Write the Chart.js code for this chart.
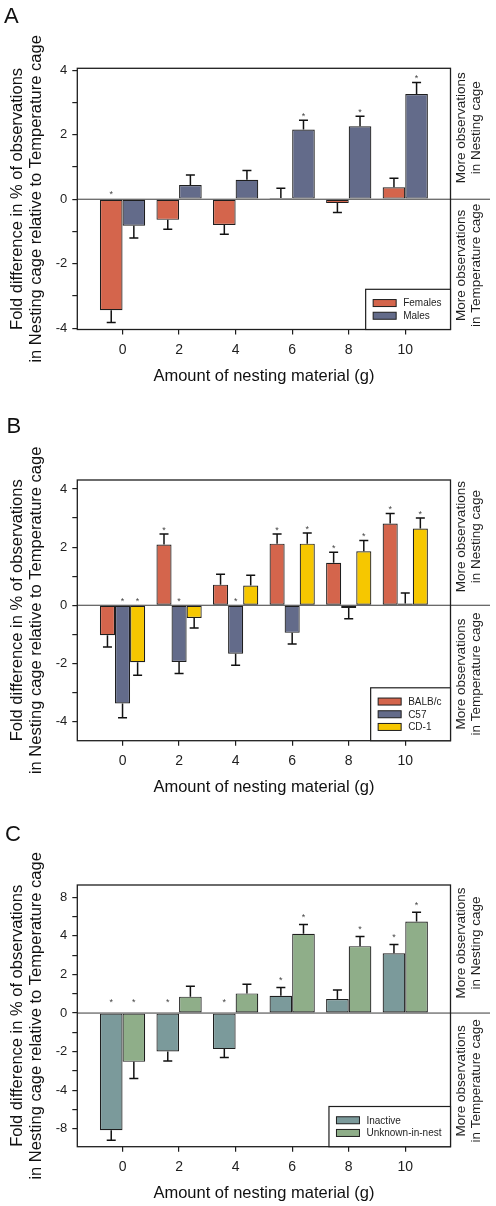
<!DOCTYPE html>
<html>
<head>
<meta charset="utf-8">
<script src="https://cdn.jsdelivr.net/npm/chart.js@4.4.1/dist/chart.umd.min.js"></script>
<style>
  body { margin: 0; background: #fff; }
  #wrap { position: relative; width: 496px; height: 1206px; }
  #wrap canvas { position: absolute; left: 0; }
</style>
</head>
<body>
<div id="wrap">
  <canvas id="chartA" width="496" height="400" style="top:0"></canvas>
  <canvas id="chartB" width="496" height="400" style="top:400px"></canvas>
  <canvas id="chartC" width="496" height="406" style="top:800px"></canvas>
</div>
<script>
const FONT = '"Liberation Sans", Arial, Helvetica, sans-serif';
const INK  = '#1e1e1e';

// x categories (g of nesting material)
const amounts = [0, 2, 4, 6, 8, 10];

// ---- Panel A: females vs males ----
const femalesA    = [-3.44, -0.64, -0.80, 0.04, -0.12, 0.37];
const femalesErrA = [0.38, 0.29, 0.29, 0.30, 0.29, 0.28];
const femalesSigA = [true, false, false, false, false, false];
const malesA      = [-0.82, 0.44, 0.60, 2.16, 2.26, 3.26];
const malesErrA   = [0.38, 0.31, 0.29, 0.29, 0.31, 0.36];
const malesSigA   = [false, false, false, true, true, true];

// ---- Panel B: strains ----
const balbB    = [-1.03, 2.09, 0.71, 2.12, 1.46, 2.81];
const balbErrB = [0.41, 0.36, 0.36, 0.33, 0.36, 0.35];
const balbSigB = [false, true, false, true, true, true];
const c57B     = [-3.38, -1.95, -1.67, -0.95, -0.09, 0.06];
const c57ErrB  = [0.49, 0.40, 0.39, 0.38, 0.37, 0.36];
const c57SigB  = [true, true, true, false, false, false];
const cd1B     = [-1.96, -0.44, 0.68, 2.12, 1.86, 2.64];
const cd1ErrB  = [0.45, 0.34, 0.35, 0.37, 0.37, 0.36];
const cd1SigB  = [true, false, false, true, true, true];

// ---- Panel C: behaviour ----
const inactiveC    = [-6.08, -1.99, -1.87, 0.90, 0.73, 3.10];
const inactiveErrC = [0.52, 0.49, 0.43, 0.43, 0.47, 0.45];
const inactiveSigC = [true, true, true, true, false, true];
const unknownC     = [-2.53, 0.85, 1.02, 4.11, 3.47, 4.75];
const unknownErrC  = [0.87, 0.54, 0.47, 0.48, 0.50, 0.48];
const unknownSigC  = [true, false, false, true, true, true];

// y tick positions and the labels printed at them
const yTicksAB  = [-4, -3, -2, -1, 0, 1, 2, 3, 4];
const yLabelsAB = ['-4', '', '-2', '', '0', '', '2', '', '4'];
const yTicksC   = [-6, -5, -4, -3, -2, -1, 0, 1, 2, 3, 4, 5, 6];
const yLabelsC  = ['-8', '', '-4', '', '-2', '', '0', '', '2', '', '4', '', '8'];

const xTitle    = 'Amount of nesting material (g)';
const yTitle    = ['Fold difference in % of observations', 'in Nesting cage relative to Temperature cage'];
const upperNote = ['More observations', 'in Nesting cage'];
const lowerNote = ['More observations', 'in Temperature cage'];

const RED = '#d4654c', SLATE = '#636b8a', YELLOW = '#f6c700', TEAL = '#7b9a9b', GREEN = '#8fae89';

const rotText = (ctx, lines, x, cy, gap) => {
  lines.forEach((t, i) => {
    ctx.save();
    ctx.translate(x + i * gap, cy);
    ctx.rotate(-Math.PI / 2);
    ctx.fillText(t, 0, 0);
    ctx.restore();
  });
};

const panelDecor = {
  id: 'panelDecor',
  beforeDatasetsDraw(chart) {
    const { ctx, chartArea: a, scales: { y } } = chart;
    const y0 = y.getPixelForValue(0);
    ctx.save();
    ctx.strokeStyle = '#3a3a3a';
    ctx.lineWidth = 1;
    ctx.beginPath(); ctx.moveTo(a.left, y0); ctx.lineTo(490, y0); ctx.stroke();
    ctx.restore();
  },
  afterDatasetsDraw(chart, args, opts) {
    const { ctx, scales: { y } } = chart;
    const y0 = y.getPixelForValue(0);
    ctx.save();
    chart.data.datasets.forEach((ds, i) => {
      const meta = chart.getDatasetMeta(i);
      meta.data.forEach((bar, j) => {
        const v = ds.data[j].y;
        const dir = v >= 0 ? 1 : -1;
        const yEnd = y.getPixelForValue(v + dir * ds.err[j]);
        ctx.strokeStyle = '#111';
        ctx.lineWidth = 1.5;
        ctx.beginPath();
        ctx.moveTo(bar.x, bar.y); ctx.lineTo(bar.x, yEnd);
        ctx.moveTo(bar.x - 4.5, yEnd); ctx.lineTo(bar.x + 4.5, yEnd);
        ctx.stroke();
        if (ds.sig[j]) {
          const sy = v >= 0 ? yEnd - opts.starGap : y0 - opts.starGapNeg;
          ctx.fillStyle = '#444';
          ctx.font = `9px ${FONT}`;
          ctx.textAlign = 'center';
          ctx.textBaseline = 'middle';
          ctx.fillText('*', bar.x, sy + 2);
        }
      });
    });
    ctx.restore();
  },
  afterDraw(chart, args, opts) {
    const { ctx, chartArea: a, scales: { y } } = chart;
    const y0 = y.getPixelForValue(0);
    ctx.save();
    // frame
    ctx.strokeStyle = INK;
    ctx.lineWidth = 1.3;
    ctx.strokeRect(a.left, a.top, a.right - a.left, a.bottom - a.top);

    // legend box in lower right corner
    const items = chart.data.datasets;
    ctx.font = `10px ${FONT}`;
    const tw = Math.max(...items.map(d => ctx.measureText(d.label).width));
    const rowH = 12.7, pad = 7.4;
    const w = 7.5 + 23 + 7 + tw + 9;
    const h = pad * 2 + rowH * items.length;
    const lx = a.right - w, ly = a.bottom - h;
    ctx.fillStyle = '#fff';
    ctx.fillRect(lx, ly, w, h);
    ctx.lineWidth = 1.2;
    ctx.strokeRect(lx, ly, w, h);
    items.forEach((d, i) => {
      const cy = ly + pad + rowH * (i + 0.5);
      ctx.fillStyle = d.backgroundColor;
      ctx.fillRect(lx + 7.5, cy - 3.5, 23, 7);
      ctx.lineWidth = 1;
      ctx.strokeStyle = INK;
      ctx.strokeRect(lx + 7.5, cy - 3.5, 23, 7);
      ctx.fillStyle = INK;
      ctx.textAlign = 'left';
      ctx.textBaseline = 'middle';
      ctx.fillText(d.label, lx + 37.5, cy + 0.5);
    });

    // panel letter
    ctx.fillStyle = '#111';
    ctx.font = `22px ${FONT}`;
    ctx.textAlign = 'left';
    ctx.textBaseline = 'alphabetic';
    ctx.fillText(opts.letter, opts.letterX, opts.letterY);

    // notes on the right
    ctx.fillStyle = INK;
    ctx.font = `13.5px ${FONT}`;
    ctx.textAlign = 'center';
    ctx.textBaseline = 'middle';
    rotText(ctx, upperNote, 461.7, (a.top + y0) / 2 - 6, 15);
    rotText(ctx, lowerNote, 461.7, (y0 + a.bottom) / 2 + 1, 15);
    ctx.restore();
  }
};

const makeDataset = (label, vals, err, sig, color) => ({
  label,
  data: amounts.map((g, i) => ({ x: g, y: vals[i] })),
  err, sig,
  backgroundColor: color,
  borderColor: INK,
  borderWidth: 1.2,
  borderSkipped: false,
  categoryPercentage: 0.8,
  barPercentage: 1.0
});

function makePanel(id, p) {
  const canvas = document.getElementById(id);
  const H = canvas.height;
  return new Chart(canvas, {
    type: 'bar',
    data: { datasets: p.datasets },
    plugins: [panelDecor],
    options: {
      responsive: false,
      animation: false,
      devicePixelRatio: 1,
      layout: { padding: { left: 0, right: 45.5, top: p.top, bottom: H - p.bottom - 57 } },
      plugins: {
        legend: { display: false },
        tooltip: { enabled: false },
        panelDecor: { letter: p.letter, letterX: p.letterX, letterY: p.letterY, starGap: p.starGap, starGapNeg: p.starGapNeg }
      },
      scales: {
        x: {
          type: 'linear',
          offset: false,
          min: -1.6, max: 11.6,
          afterBuildTicks: s => { s.ticks = amounts.map(v => ({ value: v })); },
          afterFit: s => { s.height = 57; },
          border: { display: false },
          grid: { offset: false, drawOnChartArea: false, drawTicks: true, tickLength: 5, tickColor: INK, lineWidth: 1.2 },
          ticks: { font: { size: 14, family: FONT }, color: INK, padding: 7, maxRotation: 0, autoSkip: false },
          title: { display: true, text: xTitle, color: '#111', font: { size: 16.5, family: FONT, lineHeight: 1.15 }, padding: { top: 0, bottom: 1 } }
        },
        y: {
          min: p.yMin, max: p.yMax,
          afterBuildTicks: s => { s.ticks = p.yTicks.map(v => ({ value: v })); },
          afterFit: s => { s.width = 77.3; },
          border: { display: false },
          grid: { drawOnChartArea: false, drawTicks: true, tickLength: 5, tickColor: INK, lineWidth: 1.2 },
          ticks: { font: { size: 13, family: FONT }, color: INK, padding: 5, autoSkip: false,
                   callback: (v, i) => p.yLabels[i] },
          title: { display: true, text: yTitle, color: '#111', font: { size: 16.5, family: FONT, lineHeight: 1.15 }, padding: { top: 7.5, bottom: 0 } }
        }
      }
    }
  });
}

makePanel('chartA', {
  letter: 'A', letterX: 4, letterY: 23,
  top: 68.3, bottom: 329.5, yMin: -4.04, yMax: 4.06,
  yTicks: yTicksAB, yLabels: yLabelsAB, starGap: 6, starGapNeg: 6.5,
  datasets: [
    makeDataset('Females', femalesA, femalesErrA, femalesSigA, RED),
    makeDataset('Males', malesA, malesErrA, malesSigA, SLATE)
  ]
});

makePanel('chartB', {
  letter: 'B', letterX: 6.5, letterY: 33.3,
  top: 80, bottom: 340.7, yMin: -4.66, yMax: 4.31,
  yTicks: yTicksAB, yLabels: yLabelsAB, starGap: 5.5, starGapNeg: 5.7,
  datasets: [
    makeDataset('BALB/c', balbB, balbErrB, balbSigB, RED),
    makeDataset('C57', c57B, c57ErrB, c57SigB, SLATE),
    makeDataset('CD-1', cd1B, cd1ErrB, cd1SigB, YELLOW)
  ]
});

makePanel('chartC', {
  letter: 'C', letterX: 5, letterY: 40.7,
  top: 85, bottom: 346.7, yMin: -6.93, yMax: 6.64,
  yTicks: yTicksC, yLabels: yLabelsC, starGap: 9, starGapNeg: 13,
  datasets: [
    makeDataset('Inactive', inactiveC, inactiveErrC, inactiveSigC, TEAL),
    makeDataset('Unknown-in-nest', unknownC, unknownErrC, unknownSigC, GREEN)
  ]
});
</script>
</body>
</html>
